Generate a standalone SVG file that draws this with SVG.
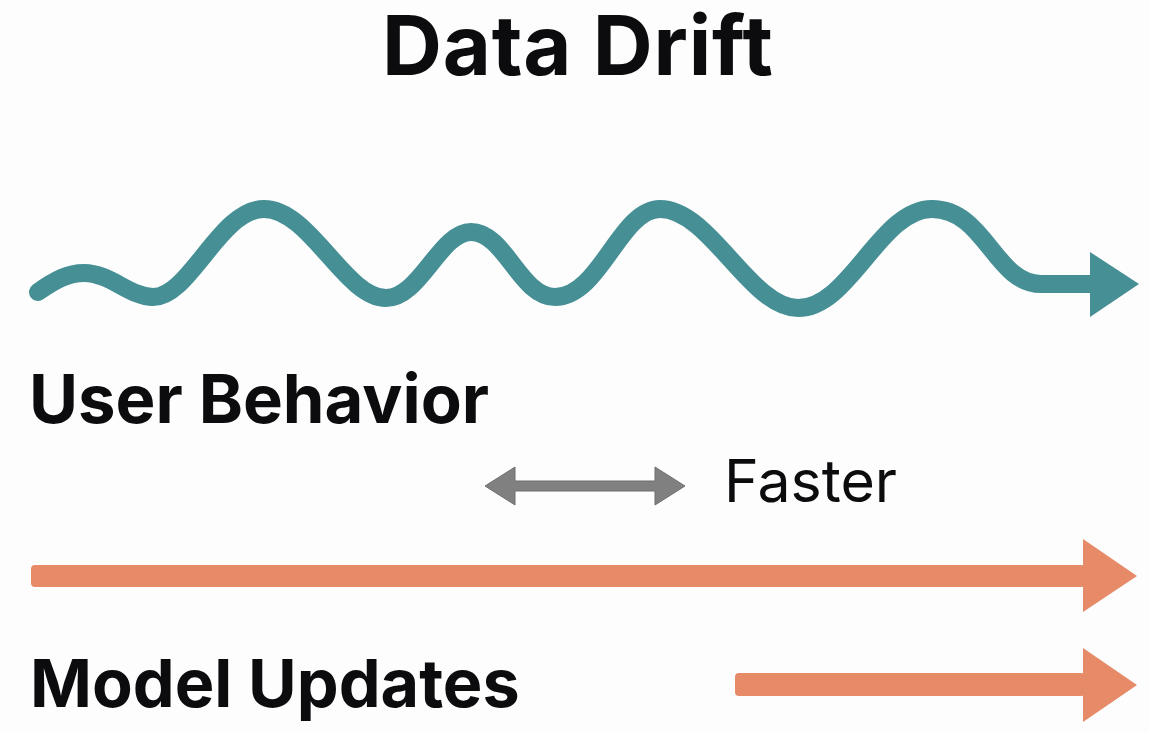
<svg xmlns="http://www.w3.org/2000/svg" width="1149" height="732" viewBox="0 0 1149 732">
<style>
.t{font-family:Inter,"Liberation Sans",Arial,sans-serif;fill:#0c0c0e}
.b{font-weight:700}
.teal{fill:#458F95}
.orange{fill:#E68A68}
.gray{fill:#808080;stroke:#6f6f6f;stroke-width:1}
</style>
<rect width="1149" height="732" fill="#fdfdfd"/>
<g id="title"><text class="t b" x="382" y="75" font-size="83" letter-spacing="0.8">Data Drift</text></g>
<g id="connectors">
<g id="wave">
<path d="M38,292 C55,280 68,273 84,273 C110,273 130,297 153,297 C190,297 220,209 264,209 C310,209 345,298 386,298 C420,298 440,232 471,232 C505,232 520,297 555,297 C600,297 620,209 660,209 C710,209 750,308 798,308 C850,308 880,209 932,209 C985,209 995,284 1041,284 L1092,284" fill="none" stroke="#458F95" stroke-width="18" stroke-linecap="round"/>
<polygon class="teal" points="1090,252 1139,284 1090,317"/>
</g>
<g id="faster-arrow">
<polygon class="gray" points="485,486 515,467 515,481 655,481 655,467 685,486 655,505 655,491 515,491 515,505"/>
</g>
<g id="drift-arrow">
<rect class="orange" x="31" y="565" width="1054" height="22" rx="4"/>
<polygon class="orange" points="1083,539 1137,576 1083,612"/>
</g>
<g id="update-arrow">
<rect class="orange" x="735" y="673" width="350" height="23" rx="4"/>
<polygon class="orange" points="1083,648 1137,685 1083,722"/>
</g>
</g>
<g id="user-behavior"><text class="t b" x="29" y="423" font-size="67">User Behavior</text></g>
<g id="faster"><text class="t" x="724" y="502" font-size="59">Faster</text></g>
<g id="model-updates"><text class="t b" x="30" y="707" font-size="66.5">Model Updates</text></g>
</svg>
